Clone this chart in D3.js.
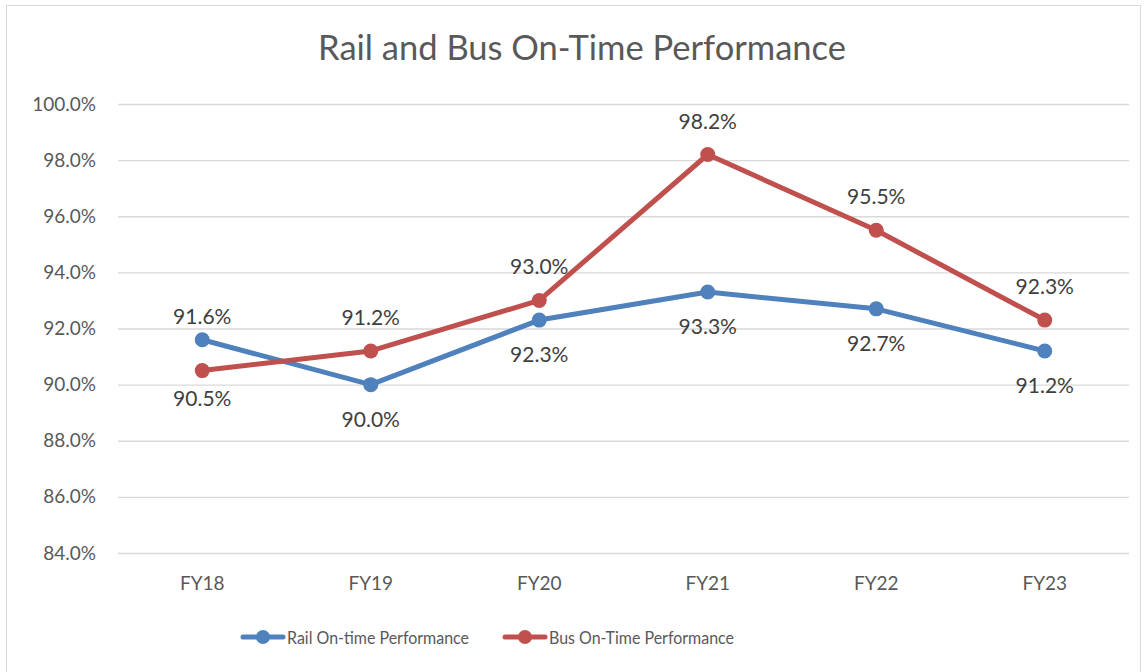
<!DOCTYPE html>
<meta charset="utf-8">
<script src="https://d3js.org/d3.v7.min.js"></script>
<style>
  body { margin: 0; background: #fff; }
  text { font-family: Lato, "Open Sans", sans-serif; }
</style>
<div id="viz"></div>
<script>
// chart values
var years = ["FY18", "FY19", "FY20", "FY21", "FY22", "FY23"];
var rail = [91.6, 90.0, 92.3, 93.3, 92.7, 91.2];
var bus = [90.5, 91.2, 93.0, 98.2, 95.5, 92.3];
var railLabelAbove = [true, false, false, false, false, false];
var busLabelAbove = [false, true, true, true, true, true];
var yTicks = [84, 86, 88, 90, 92, 94, 96, 98, 100];

var W = 1145, H = 672;
var margin = {top: 104, right: 16, bottom: 119, left: 118};

var svg = d3.select("#viz").append("svg")
  .attr("width", W).attr("height", H);

// outer chart border
svg.append("rect")
  .attr("x", 6.5).attr("y", 5.5)
  .attr("width", 1134).attr("height", 680)
  .attr("fill", "#fff").attr("stroke", "#d9d9d9");

var x = d3.scaleBand()
  .domain(years)
  .range([margin.left, W - margin.right]);

var y = d3.scaleLinear()
  .domain([84, 100])
  .range([H - margin.bottom, margin.top]);

// title
svg.append("text")
  .attr("x", 582).attr("y", 60)
  .attr("text-anchor", "middle")
  .attr("font-size", 34.5)
  .attr("fill", "#595959")
  .text("Rail and Bus On-Time Performance");

// gridlines + y labels
var yAxis = svg.append("g")
  .attr("transform", "translate(" + margin.left + ",0)")
  .call(d3.axisLeft(y).tickValues(yTicks)
    .tickSize(-(W - margin.left - margin.right))
    .tickPadding(22)
    .tickFormat(function(d) { return d.toFixed(1) + "%"; }));
yAxis.select(".domain").remove();
yAxis.selectAll("line").attr("stroke", "#d9d9d9").attr("stroke-width", 1.3);
yAxis.selectAll("text").attr("font-size", 19).attr("fill", "#595959")
  .attr("font-family", "Lato, sans-serif");

// x labels
var xAxis = svg.append("g")
  .attr("transform", "translate(0," + (H - margin.bottom) + ")")
  .call(d3.axisBottom(x).tickSize(0).tickPadding(24));
xAxis.select(".domain").remove();
xAxis.selectAll("text").attr("font-size", 19).attr("fill", "#595959")
  .attr("font-family", "Lato, sans-serif");

var cx = function(d, i) { return x(years[i]) + x.bandwidth() / 2; };

function drawSeries(values, color, above, upOff, downOff) {
  var line = d3.line()
    .x(function(d, i) { return cx(d, i); })
    .y(function(d) { return y(d); });

  svg.append("path")
    .datum(values)
    .attr("d", line)
    .attr("fill", "none")
    .attr("stroke", color)
    .attr("stroke-width", 5)
    .attr("stroke-linejoin", "round")
    .attr("stroke-linecap", "round");

  svg.append("g").selectAll("circle")
    .data(values).enter().append("circle")
    .attr("cx", cx)
    .attr("cy", function(d) { return y(d); })
    .attr("r", 7.5)
    .attr("fill", color);

  svg.append("g").selectAll("text")
    .data(values).enter().append("text")
    .attr("x", cx)
    .attr("y", function(d, i) { return y(d) + (above[i] ? -upOff : downOff); })
    .attr("text-anchor", "middle")
    .attr("font-size", 21)
    .attr("fill", "#404040")
    .text(function(d) { return d.toFixed(1) + "%"; });
}

drawSeries(rail, "#4f81bd", railLabelAbove, 16, 42);
drawSeries(bus, "#c0504d", busLabelAbove, 26, 35);

// legend
var legend = [
  {name: "Rail On-time Performance", color: "#4f81bd", x: 243, w: 182},
  {name: "Bus On-Time Performance", color: "#c0504d", x: 505, w: 185}
];
var lg = svg.append("g").selectAll("g")
  .data(legend).enter().append("g")
  .attr("transform", function(d) { return "translate(" + d.x + ",637)"; });
lg.append("line")
  .attr("x1", 0).attr("x2", 40)
  .attr("stroke", function(d) { return d.color; })
  .attr("stroke-width", 5).attr("stroke-linecap", "round");
lg.append("circle")
  .attr("cx", 20).attr("r", 7)
  .attr("fill", function(d) { return d.color; });
lg.append("text")
  .attr("x", 44).attr("y", 7)
  .attr("font-size", 18)
  .attr("fill", "#595959")
  .attr("textLength", function(d) { return d.w; })
  .attr("lengthAdjust", "spacingAndGlyphs")
  .text(function(d) { return d.name; });
</script>
